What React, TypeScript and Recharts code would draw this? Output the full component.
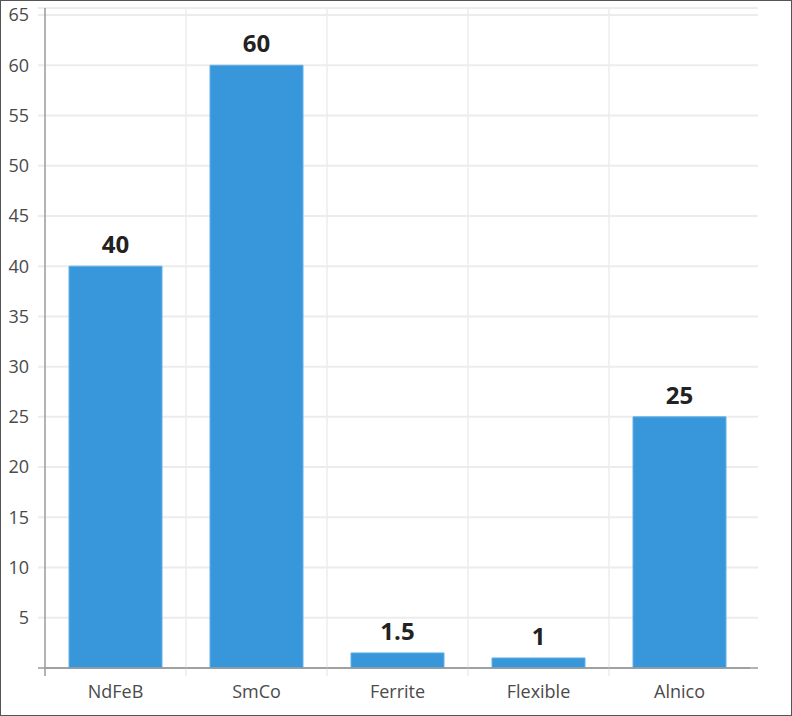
import { BarChart, Bar, XAxis, YAxis, CartesianGrid, LabelList, ReferenceLine } from 'recharts'

const magnets = ['NdFeB', 'SmCo', 'Ferrite', 'Flexible', 'Alnico']
const strength = [40, 60, 1.5, 1, 25]
const yTicks = [0, 5, 10, 15, 20, 25, 30, 35, 40, 45, 50, 55, 60, 65]

const data = magnets.map((name, i) => ({ name, value: strength[i] }))

const AXIS = '#9a9a9a'
const GRID = '#ececec'
const FONT = '"Open Sans", sans-serif'

// horizontal grid, stretched a few px past both plot edges like the original
const gridLine = (p: any) => {
  const isBase = Math.abs(p.y1 - (p.y + p.height)) < 0.5
  return (
    <line
      key={p.key}
      x1={p.x1 - 7}
      x2={p.x2 + 8}
      y1={p.y1}
      y2={p.y2}
      stroke={isBase ? AXIS : GRID}
      strokeWidth={isBase ? 1.5 : 2}
    />
  )
}

export default function App() {
  return (
    <div
      style={{
        position: 'absolute',
        left: 0,
        top: 0,
        width: 792,
        height: 716,
        border: '1px solid #555',
        boxSizing: 'border-box',
        background: '#fff',
      }}
    >
      <BarChart width={790} height={714} data={data} margin={{ top: 7, right: 41, bottom: 0, left: 0 }}>
        <CartesianGrid vertical={false} horizontal={gridLine} />
        {magnets.slice(1).map((m) => (
          <ReferenceLine
            key={m}
            segment={[{ x: m, y: -0.8 }, { x: m, y: 65.7 }]}
            position="start"
            ifOverflow="visible"
            stroke={GRID}
            strokeWidth={1.5}
          />
        ))}
        <ReferenceLine
          segment={[{ x: magnets[0], y: -0.8 }, { x: magnets[0], y: 0 }]}
          position="start"
          ifOverflow="visible"
          stroke={AXIS}
          strokeWidth={1.5}
        />
        <XAxis
          dataKey="name"
          tickLine={false}
          axisLine={{ stroke: AXIS, strokeWidth: 1.5 }}
          height={47}
          tickSize={8}
          tickMargin={9}
          tick={{ fontSize: 18, fill: '#4a4a4a', fontFamily: FONT }}
        />
        <YAxis
          domain={[0, 65.7]}
          ticks={yTicks}
          width={44}
          tickLine={false}
          axisLine={{ stroke: AXIS, strokeWidth: 1.5 }}
          tickSize={8}
          tickMargin={8}
          tickFormatter={(v: number) => (v === 0 ? '' : String(v))}
          tick={{ fontSize: 18, fill: '#4a4a4a', fontFamily: FONT }}
        />
        <Bar dataKey="value" fill="#3897db" stroke="#63b0e6" strokeWidth={1} barSize={93} isAnimationActive={false}>
          <LabelList
            dataKey="value"
            position="top"
            offset={13}
            style={{ fontSize: 24, fontWeight: 700, fill: '#222', fontFamily: FONT }}
          />
        </Bar>
      </BarChart>
    </div>
  )
}
